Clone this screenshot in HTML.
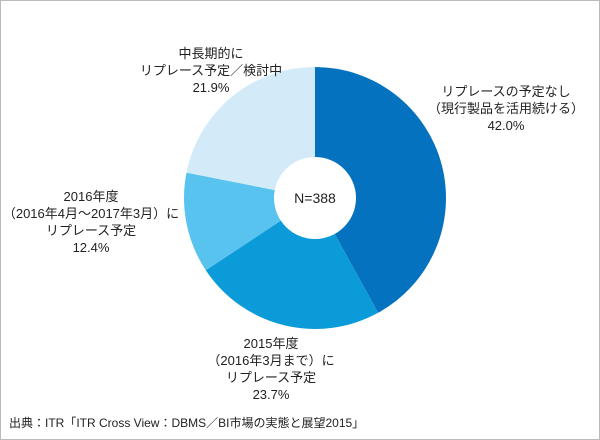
<!DOCTYPE html>
<html><head><meta charset="utf-8"><style>
body{margin:0;background:#fff;}
.w{position:relative;width:598px;height:438px;border:1px solid #bbb;overflow:hidden;font-family:"Liberation Sans","Noto Sans CJK JP",sans-serif;color:#222;}
.t{position:absolute;font-size:13px;line-height:17px;text-align:center;white-space:nowrap;}
</style></head><body><div class="w">
<svg width="600" height="440" style="position:absolute;left:-1px;top:-1px">
<path d="M315,198 L315,67 A131,131 0 0 1 378.1,312.8 Z" fill="#0572c0"/>
<path d="M315,198 L378.1,312.8 A131,131 0 0 1 205.8,270.3 Z" fill="#0b9bd8"/>
<path d="M315,198 L205.8,270.3 A131,131 0 0 1 186.5,172.6 Z" fill="#58c3ef"/>
<path d="M315,198 L186.5,172.6 A131,131 0 0 1 315,67 Z" fill="#d3ebf9"/>
<circle cx="315" cy="198" r="41" fill="#fff"/>
<text x="315" y="203" font-size="14" text-anchor="middle" font-family="Liberation Sans, sans-serif" fill="#222">N=388</text>
</svg>
<div class="t" style="left:120px;top:44px;width:180px">中長期的に<br>リプレース予定／検討中<br>21.9%</div>
<div class="t" style="left:420px;top:82px;width:170px">リプレースの予定なし<br>（現行製品を活用続ける）<br>42.0%</div>
<div class="t" style="left:0px;top:187px;width:180px">2016年度<br>（2016年4月〜2017年3月）に<br>リプレース予定<br>12.4%</div>
<div class="t" style="left:180px;top:334px;width:180px">2015年度<br>（2016年3月まで）に<br>リプレース予定<br>23.7%</div>
<div class="t" style="left:8px;top:414px;font-size:12px;text-align:left">出典：ITR「ITR Cross View：DBMS／BI市場の実態と展望2015」</div>
</div></body></html>
